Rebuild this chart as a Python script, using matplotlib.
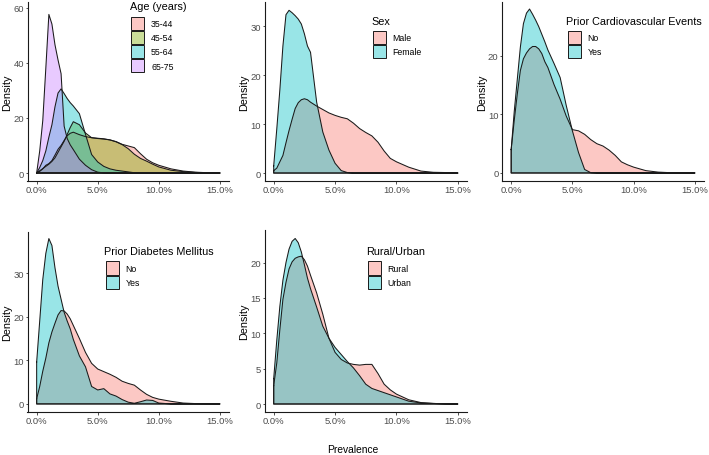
import matplotlib
matplotlib.use("Agg")
import matplotlib.pyplot as plt
from matplotlib.patches import Rectangle

plt.rcParams['font.family'] = ['Liberation Sans', 'DejaVu Sans']

# prevalence grid (%)
prev = [0, 0.25, 0.5, 0.75, 1, 1.25, 1.5, 1.75, 2, 2.25, 2.5, 2.75, 3, 3.5, 4, 4.5,
        5, 5.5, 6, 6.5, 7, 7.5, 8, 8.5, 9, 9.5, 10, 11, 12, 13, 14, 15]

# Age (years)
age_35_44 = [0, 0.6, 1.5, 2.8, 3.4, 4.5, 6.5, 8.6, 10, 11.8, 13.5, 14.4, 14.8, 13.9, 13.2, 12.8,
             12.6, 12.4, 12, 11.4, 10.4, 9.8, 9.2, 7, 5, 3.7, 2.8, 1.5, 0.7, 0.3, 0.1, 0]
age_45_54 = [0, 0.8, 1.6, 2.4, 3.2, 4.2, 5.5, 7.5, 9.5, 11.5, 14, 16.5, 18.6, 17.5, 14.5, 12.8,
             12.5, 12.3, 12, 11.3, 10.3, 8.8, 6.8, 5.3, 4.3, 3.2, 2.2, 1, 0.5, 0.2, 0.05, 0]
age_55_64 = [0, 2, 4.5, 8, 13, 17.5, 24, 29, 30.5, 28.8, 27, 25.5, 24.3, 21.5, 14, 6.7,
             4, 2.4, 1.5, 1, 0.7, 0.4, 0.1, 0, 0, 0, 0, 0, 0, 0, 0, 0]
age_65_75 = [0, 8, 19, 38, 57.5, 54, 46.5, 41, 36, 17, 12.5, 10.2, 8.5, 5, 2.8, 1.2,
             0.3, 0.05, 0, 0, 0, 0, 0, 0, 0, 0, 0, 0, 0, 0, 0, 0]

# Sex
male = [0.5, 1, 2.3, 3.6, 6.2, 8.7, 11, 13.2, 14.4, 15, 15.2, 15, 14.5, 13.7, 13, 12.3,
        11.8, 11.4, 11.1, 10.2, 9.1, 8.3, 7.6, 6.3, 4.5, 3, 2.3, 1.2, 0.4, 0.15, 0.1, 0]
female = [1.5, 9, 17, 26, 32.4, 33.3, 32.8, 32.2, 31.5, 30.5, 28.5, 26, 24.7, 14.5, 8.4, 4.7,
          2, 0.5, 0.1, 0, 0, 0, 0, 0, 0, 0, 0, 0, 0, 0, 0, 0]

# Prior cardiovascular events
cv_no = [4, 9, 13.5, 17.5, 19.5, 20.5, 21.2, 21.6, 21.6, 21.2, 20.4, 19, 18, 15.1, 12.6, 9.7,
         7.4, 7.2, 6.6, 5.7, 5, 4.6, 3.9, 3, 1.9, 1.4, 1, 0.4, 0.15, 0.05, 0.03, 0]
cv_yes = [4, 10.5, 16, 21.5, 25.5, 27.3, 28, 27.1, 26.1, 25, 23.7, 22.4, 21, 18.7, 16.3, 11.5,
          7.2, 3.5, 0.6, 0.05, 0, 0, 0, 0, 0, 0, 0, 0, 0, 0, 0, 0]

# Prior diabetes mellitus
dm_no = [1.2, 4, 7.5, 10.5, 14, 16.5, 18.5, 20.4, 21.4, 21.3, 20.6, 19.5, 18, 15, 11.8, 9.3,
         8, 7.4, 6.8, 6.1, 5.2, 4.7, 4.3, 3.2, 2.2, 1.5, 1.1, 0.6, 0.2, 0.08, 0.03, 0]
dm_yes = [9.6, 19, 28.5, 34.5, 37.9, 36.3, 31.2, 27, 24, 21, 19, 17.2, 14.8, 11, 8.5, 4,
          3.2, 3.5, 2.3, 1.8, 1, 0.4, 0.15, 0.5, 0.9, 0.8, 0.2, 0, 0, 0, 0, 0]

# Rural/Urban
rural = [2.6, 5.8, 10.5, 14.8, 17.2, 19.1, 20.1, 20.6, 20.8, 20.9, 20.4, 19.5, 18.2, 15.7, 12.7, 9.3,
         7.3, 6.3, 5.8, 5.6, 5.5, 5.6, 5.6, 4.3, 2.8, 2, 1.4, 0.6, 0.2, 0.08, 0.03, 0]
urban = [3.6, 9, 13.8, 17.5, 20, 21.9, 23, 23.4, 22.8, 21.5, 19.7, 17.8, 16.3, 13.7, 11, 9.3,
         8, 7, 6, 5.1, 4, 2.8, 2.2, 1.9, 1.6, 1.3, 1, 0.4, 0.15, 0.08, 0.03, 0]

xticks = [0, 5, 10, 15]
xticklabels = ["0.0%", "5.0%", "10.0%", "15.0%"]

c2 = ["#F8766D", "#00BFC4"]
c4 = ["#F8766D", "#7CAE00", "#00BFC4", "#C77CFF"]
edge = "#1a1a1a"

W, H = 709, 456
fig = plt.figure(figsize=(W / 100, H / 100), dpi=100)


def make_ax(left, right, top, bottom):
    return fig.add_axes([left / W, 1 - bottom / H, (right - left) / W, (bottom - top) / H])


panels = [
    # pixel box, ylim, yticks, series, labels, colors, legend title, legend (x, y) in px
    ((27.5, 229, 3, 182), (-2.9, 62), [0, 20, 40, 60],
     [age_35_44, age_45_54, age_55_64, age_65_75], ["35-44", "45-54", "55-64", "65-75"], c4,
     "Age (years)", (131, 7.5)),
    ((264.5, 467, 3, 182), (-1.63, 35), [0, 10, 20, 30],
     [male, female], ["Male", "Female"], c2, "Sex", (372.5, 21.7)),
    ((502, 704, 3, 182), (-1.37, 29.2), [0, 10, 20],
     [cv_no, cv_yes], ["No", "Yes"], c2, "Prior Cardiovascular Events", (567.5, 21.7)),
    ((27.5, 229, 233, 413), (-1.85, 39.4), [0, 10, 20, 30],
     [dm_no, dm_yes], ["No", "Yes"], c2, "Prior Diabetes Mellitus", (105.5, 252.3)),
    ((264.5, 467, 231, 413), (-1.13, 24.6), [0, 5, 10, 15, 20],
     [rural, urban], ["Rural", "Urban"], c2, "Rural/Urban", (367.5, 252.3)),
]

# overlay in pixel coordinates for the legends
over = fig.add_axes([0, 0, 1, 1], zorder=5)
over.set_xlim(0, W)
over.set_ylim(H, 0)
over.axis("off")

for box, ylim, yticks, series, labels, colors, title, (lx, ly) in panels:
    ax = make_ax(*box)
    for ys, col in zip(series, colors):
        ax.fill(prev + [15, 0], ys + [0, 0], facecolor=col, alpha=0.4, edgecolor="none")
        ax.plot(prev + [15, 0, 0], ys + [0, 0, ys[0]], color=edge, lw=0.75)
    ax.set_xlim(-0.75, 15.75)
    ax.set_ylim(*ylim)
    ax.set_xticks(xticks)
    ax.set_xticklabels(xticklabels)
    ax.set_yticks(yticks)
    for s in ["top", "right"]:
        ax.spines[s].set_visible(False)
    for s in ["left", "bottom"]:
        ax.spines[s].set_linewidth(0.8)
        ax.spines[s].set_color(edge)
    ax.tick_params(length=1.8, width=0.6, color="#333333", labelsize=6.8,
                   labelcolor="#4D4D4D", pad=0.8)
    ax.set_ylabel("Density", fontsize=7.8, labelpad=0.5)

    # legend
    over.text(lx - 1, ly, title, fontsize=7.8, ha="left", va="center")
    for i, (lab, col) in enumerate(zip(labels, colors)):
        top = ly + 10 + i * 14.2
        over.add_patch(Rectangle((lx, top), 13.3, 13.3, facecolor="white", edgecolor="none"))
        over.add_patch(Rectangle((lx, top), 13.3, 13.3, facecolor=col, alpha=0.4,
                                 edgecolor="none"))
        over.add_patch(Rectangle((lx, top), 13.3, 13.3, facecolor="none",
                                 edgecolor=edge, lw=0.7))
        over.text(lx + 20, top + 6.9, lab, fontsize=6.3, ha="left", va="center")

fig.text(353 / W, 1 - 450 / H, "Prevalence", ha="center", va="center", fontsize=7.4)

fig.savefig("out.png", dpi=100)
